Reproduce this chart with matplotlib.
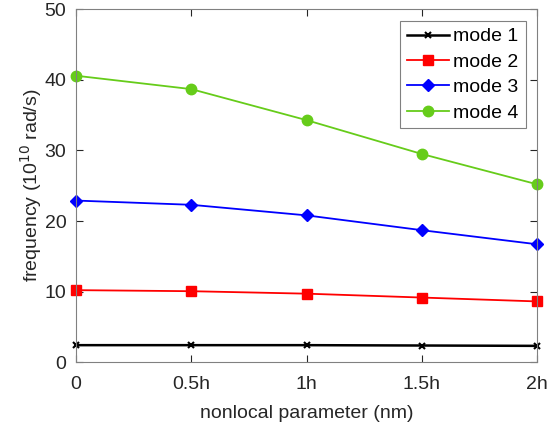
import matplotlib
matplotlib.use('Agg')
import matplotlib.pyplot as plt
import numpy as np

# Data
x_labels = ['0', '0.5h', '1h', '1.5h', '2h']
mode1 = [2.4, 2.4, 2.4, 2.35, 2.3]
mode2 = [10.2, 10.05, 9.7, 9.15, 8.6]
mode3 = [22.9, 22.3, 20.8, 18.7, 16.7]
mode4 = [40.6, 38.7, 34.3, 29.5, 25.2]

plt.rcParams['font.family'] = ['Liberation Sans', 'DejaVu Sans']

x = np.arange(len(x_labels))

fig = plt.figure(figsize=(5.59, 4.28), dpi=100)
ax = fig.add_axes([0.136, 0.154, 0.825, 0.824])

ax.plot(x, mode1, color='black', marker='x', markersize=4, markeredgewidth=1.5, linewidth=1.8, label='mode 1', clip_on=False)
ax.plot(x, mode2, color='#ff0000', marker='s', markersize=6.5, linewidth=1.3, label='mode 2', clip_on=False)
ax.plot(x, mode3, color='#0000ff', marker='D', markersize=6.5, linewidth=1.3, label='mode 3', clip_on=False)
ax.plot(x, mode4, color='#66cc1a', marker='o', markersize=7.5, linewidth=1.3, label='mode 4', clip_on=False)

ax.set_xlim(0, 4)
ax.set_ylim(0, 50)
ax.set_xticks(x)
ax.set_xticklabels(x_labels)
ax.set_yticks([0, 10, 20, 30, 40, 50])

ax.set_xlabel('nonlocal parameter (nm)', fontsize=14, color='#262626', labelpad=9)
ax.set_ylabel('frequency (10$^{10}$ rad/s)', fontsize=14, color='#262626', labelpad=0)

ax.tick_params(direction='in', top=True, right=True, labelsize=14, colors='#262626', length=5)
ax.tick_params(axis='x', pad=10)
ax.tick_params(axis='y', pad=7)
for s in ax.spines.values():
    s.set_color('#808080')
    s.set_linewidth(0.8)

leg = ax.legend(loc='upper right', fontsize=14, fancybox=False, framealpha=1,
                edgecolor='#808080', handlelength=2.2, borderpad=0.35, labelspacing=0.4,
                handletextpad=0.2, borderaxespad=0.6)
leg.get_frame().set_linewidth(0.8)

plt.savefig('out.png', dpi=100)
